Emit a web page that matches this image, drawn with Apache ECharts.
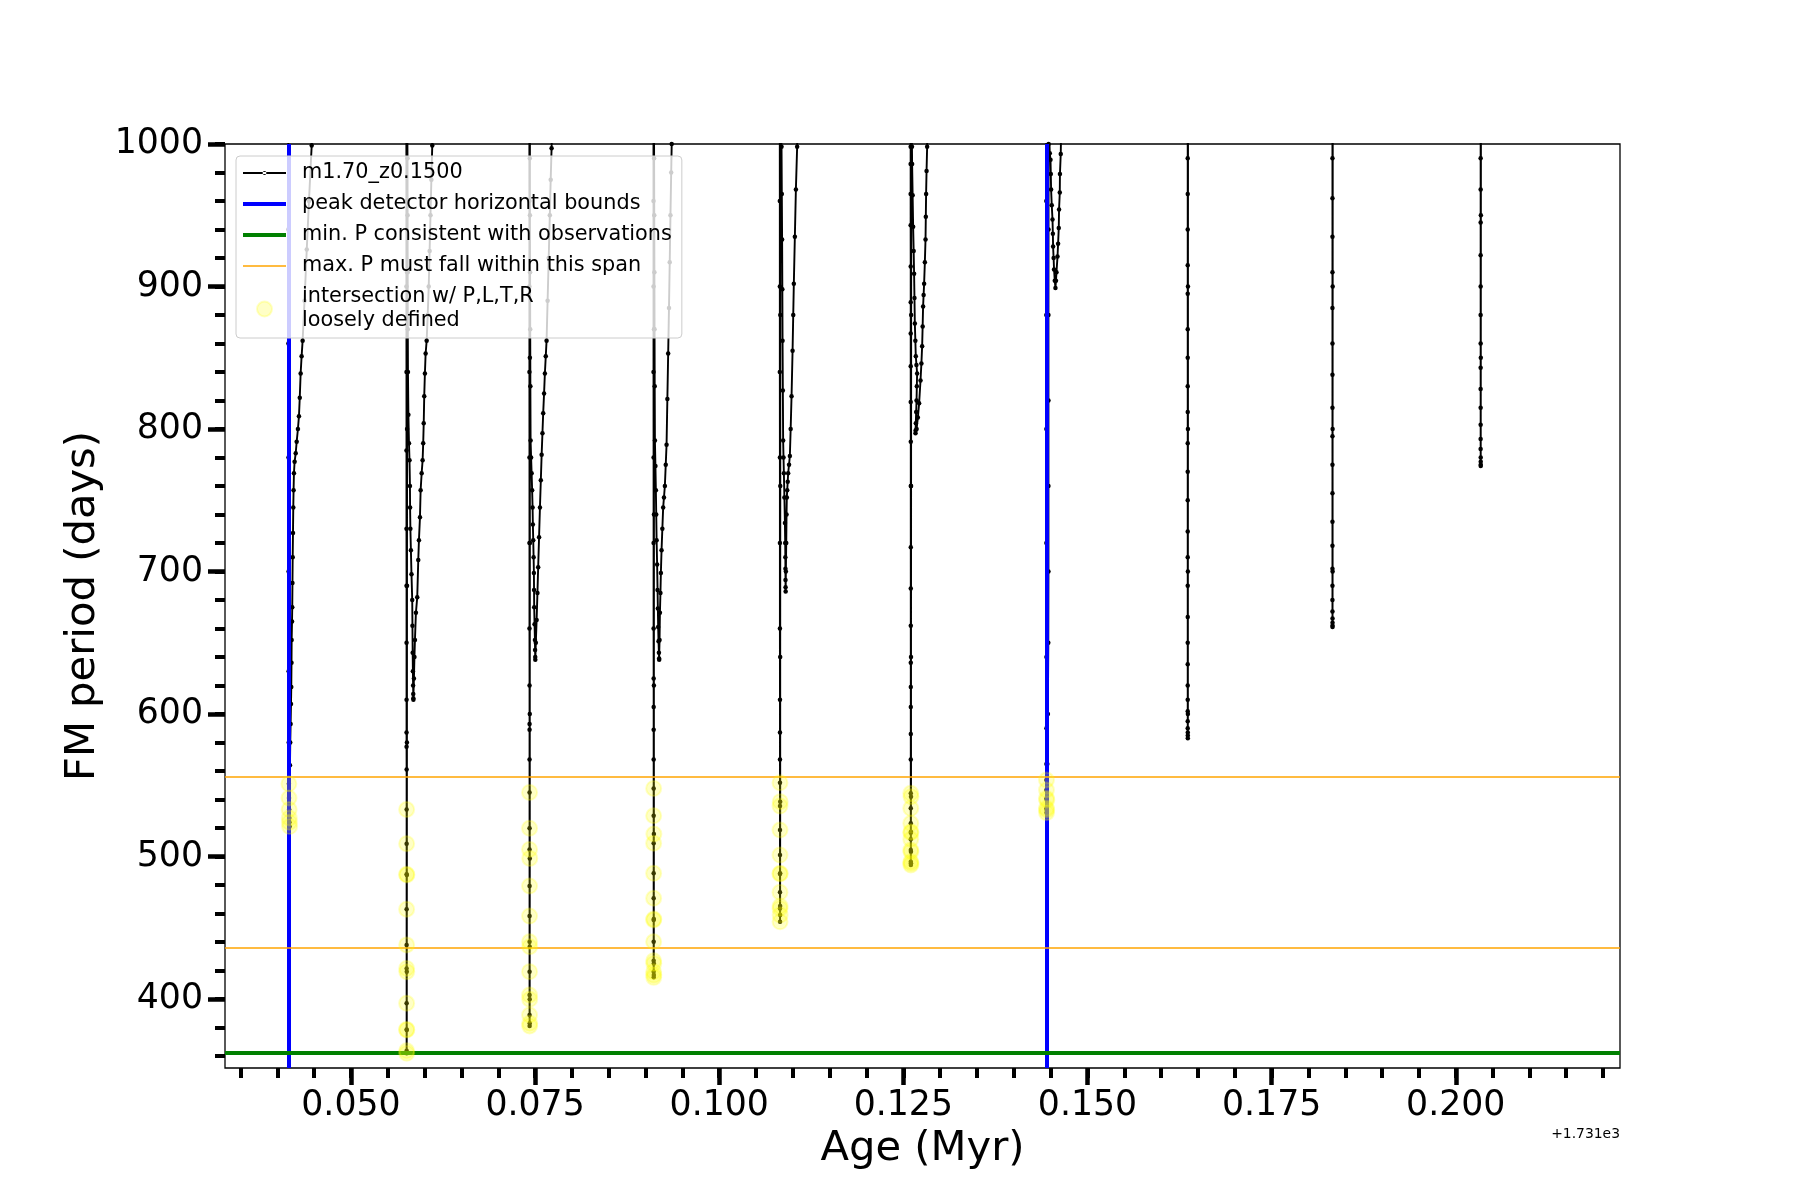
<!DOCTYPE html>
<html>
<head>
<meta charset="utf-8">
<script src="https://cdn.jsdelivr.net/npm/echarts@6/dist/echarts.min.js"></script>
<style>
  html, body { margin: 0; padding: 0; background: #ffffff; }
  #chart { width: 1800px; height: 1200px; }
</style>
</head>
<body>
<div id="chart"></div>
<script>
// Ages are given relative to the axis offset (+1.731e3 Myr); periods in days.
const AGE_OFFSET_LABEL = '+1.731e3';
const trackName = 'm1.70_z0.1500';

const xTickValues = [0.050, 0.075, 0.100, 0.125, 0.150, 0.175, 0.200];
const xMinorTicks = [0.035, 0.040, 0.045, 0.050, 0.055, 0.060, 0.065, 0.070, 0.075, 0.080, 0.085, 0.090,
  0.095, 0.100, 0.105, 0.110, 0.115, 0.120, 0.125, 0.130, 0.135, 0.140, 0.145, 0.150, 0.155, 0.160,
  0.165, 0.170, 0.175, 0.180, 0.185, 0.190, 0.195, 0.200, 0.205, 0.210, 0.215, 0.220];
const yTickValues = [400, 500, 600, 700, 800, 900, 1000];
const yMinorTicks = [360, 380, 400, 420, 440, 460, 480, 500, 520, 540, 560, 580, 600, 620, 640, 660, 680,
  700, 720, 740, 760, 780, 800, 820, 840, 860, 880, 900, 920, 940, 960, 980, 1000];
const xRange = [0.0329, 0.2223];
const yRange = [351.6, 1000];

const peakBoundAges = [0.04149, 0.14443];
const minPeriodObs = 362;
const maxPeriodSpan = [436, 556];

const pulse1 = [[0.04150,1040],[0.04150,940],[0.04151,860],[0.04152,780],[0.04153,700],[0.04154,630],[0.04155,580],
  [0.04157,551],[0.04159,541],[0.04161,533],[0.04163,527],[0.04165,524],[0.04167,521],
  [0.04172,564],[0.04176,580],[0.04181,593],[0.04186,607],[0.04190,619],[0.04193,636],[0.04195,652],[0.04200,665],
  [0.04203,675],[0.04206,692],[0.04209,710],[0.04213,727],[0.04217,745],[0.04221,757],[0.04226,769],[0.04235,777],
  [0.04250,783],[0.04263,791],[0.04280,800],[0.04294,809],[0.04305,822],[0.04317,839],[0.04330,851],[0.04344,862],
  [0.04370,890],[0.04400,926],[0.04430,960],[0.04467,999],[0.04480,1015]];
const pulse2 = [[0.05752,1040],[0.05753,960],[0.05753,900],[0.05754,840],[0.05754,785],[0.05754,730],[0.05755,690],
  [0.05755,650],[0.05755,610],[0.05755,587],[0.05755,577],[0.05756,561],
  [0.05756,533],[0.05756,509],[0.05756,487.5],[0.05756,463],[0.05756,438],[0.05756,421.5],[0.05756,397],[0.05756,378.7],
  [0.05756,363.7],[0.05757,361.9],
  [0.05758,378.2],[0.05758,419.2],[0.05759,487],[0.05760,580],[0.05761,690],[0.05762,800],[0.05763,910],[0.05764,1020],
  [0.05768,990],[0.05769,950],[0.05770,910],[0.05772,870],[0.05774,840],[0.05780,810],[0.05788,790],[0.05795,778],
  [0.05801,760],[0.05803,745],[0.05807,730],[0.05814,715],[0.05822,698],[0.05832,680],[0.05835,662],[0.05838,643],
  [0.05841,630],[0.05844,620],[0.05846,614],[0.05847,611],[0.05848,610],
  [0.05855,625],[0.05862,640],[0.05869,652],[0.05882,671],[0.05900,682],[0.05914,708],[0.05923,722],[0.05937,738],
  [0.05946,757],[0.05960,769],[0.05973,778],[0.05981,790],[0.05988,804],[0.05995,823],[0.06004,839],[0.06014,853],
  [0.06028,862],[0.06042,880],[0.06056,900],[0.06068,925],[0.06080,950],[0.06092,975],[0.06104,999],[0.06115,1020]];
const pulse3 = [[0.07422,1040],[0.07423,960],[0.07423,900],[0.07423,840],[0.07424,780],[0.07424,720],[0.07424,660],
  [0.07425,620],[0.07425,593],[0.07425,589],[0.07425,568],
  [0.07425,545],[0.07425,519.8],[0.07425,505],[0.07425,479.3],[0.07425,458.2],[0.07425,440.2],[0.07425,419.2],
  [0.07425,402.8],[0.07425,388.8],[0.07426,381.1],
  [0.07427,383],[0.07427,399.8],[0.07427,436.7],[0.07428,498.7],[0.07428,600],[0.07429,720],[0.07429,850],[0.07430,1020],
  [0.07428,990],[0.07430,950],[0.07432,910],[0.07434,870],[0.07436,830],[0.07439,792],[0.07446,780],[0.07453,769],
  [0.07460,757],[0.07466,745],[0.07470,733],[0.07475,722],[0.07480,710],[0.07484,699],[0.07486,687],[0.07488,675],
  [0.07493,663],[0.07498,652],[0.07500,645],[0.07502,640],[0.07503,638],
  [0.07510,650],[0.07521,666],[0.07532,685],[0.07542,703],[0.07554,724],[0.07566,745],[0.07578,764],[0.07589,782],
  [0.07600,797],[0.07610,811],[0.07622,825],[0.07633,839],[0.07645,851],[0.07656,862],[0.07670,890],[0.07685,920],
  [0.07700,950],[0.07712,975],[0.07724,997],[0.07735,1020]];
const pulse4 = [[0.09107,1040],[0.09108,960],[0.09108,900],[0.09108,840],[0.09109,780],[0.09109,720],[0.09109,660],
  [0.09110,625],[0.09110,605],[0.09110,589],[0.09110,568],
  [0.09110,547.8],[0.09110,528.6],[0.09110,509.3],[0.09110,488.2],[0.09110,470.7],[0.09110,455.4],[0.09110,440.2],
  [0.09110,426.9],[0.09110,419.2],[0.09111,415.2],
  [0.09112,416.8],[0.09112,425],[0.09112,456.1],[0.09113,515.8],[0.09113,620],[0.09114,740],[0.09114,870],[0.09115,1020],
  [0.09116,990],[0.09118,950],[0.09120,910],[0.09122,870],[0.09124,830],[0.09127,792],[0.09134,774],[0.09140,757],
  [0.09145,740],[0.09150,722],[0.09157,705],[0.09163,687],[0.09167,674],[0.09171,661],[0.09176,651],[0.09181,643],
  [0.09184,639],[0.09185,638],
  [0.09190,652],[0.09195,671],[0.09202,685],[0.09208,699],[0.09217,715],[0.09228,730],[0.09239,745],[0.09250,752],
  [0.09262,760],[0.09274,775],[0.09285,789],[0.09296,821],[0.09307,853],[0.09318,885],[0.09328,917],[0.09338,950],
  [0.09348,980],[0.09355,1000],[0.09365,1020]];
const pulse5 = [[0.10822,1040],[0.10823,960],[0.10823,900],[0.10823,840],[0.10824,780],[0.10824,720],[0.10824,660],
  [0.10825,610],[0.10825,587],[0.10825,568],
  [0.10825,551.8],[0.10825,535.4],[0.10825,518.6],[0.10825,501],[0.10825,487.7],[0.10825,474.9],[0.10825,463.6],
  [0.10826,454.2],
  [0.10827,458.9],[0.10827,465.3],[0.10827,488.2],[0.10828,538.5],[0.10828,640],[0.10829,760],[0.10829,880],[0.10830,1020],
  [0.10846,998],[0.10850,965],[0.10854,933],[0.10857,898],[0.10860,862],[0.10864,827],[0.10868,792],[0.10873,780],
  [0.10878,769],[0.10885,752],[0.10892,734],[0.10896,720],[0.10898,710],[0.10899,702],[0.10900,694],[0.10901,689],
  [0.10902,686],
  [0.10905,700],[0.10910,720],[0.10914,740],[0.10918,752],[0.10923,757],[0.10930,763],[0.10936,769],[0.10948,775],
  [0.10959,781],[0.10970,800],[0.10982,823],[0.10996,855],[0.11005,880],[0.11013,902],[0.11027,935],[0.11041,968],
  [0.11058,998],[0.11068,1020]];
const pulse6 = [[0.12598,1040],[0.12599,998],[0.12599,986],[0.12599,965],[0.12599,943],[0.12600,914],[0.12600,889],
  [0.12600,867],[0.12600,844],[0.12600,819],[0.12601,791],[0.12601,760],[0.12601,717],[0.12601,688],[0.12601,662],
  [0.12601,636],[0.12601,619],[0.12601,605],[0.12601,586],[0.12601,568],
  [0.12601,544.4],[0.12601,533.8],[0.12601,523.3],[0.12601,516.7],[0.12601,512.1],[0.12601,504.6],[0.12601,496.4],
  [0.12602,494],
  [0.12603,495.2],[0.12603,503.4],[0.12603,517.4],[0.12604,542],[0.12604,640],[0.12605,760],[0.12606,880],[0.12607,1020],
  [0.12617,998],[0.12619,986],[0.12626,964],[0.12633,942],[0.12640,925],[0.12646,909],[0.12651,892],[0.12656,874],
  [0.12663,862],[0.12669,851],[0.12678,845],[0.12687,839],[0.12683,830],[0.12679,820],[0.12674,812],[0.12669,804],
  [0.12666,799],[0.12665,797],
  [0.12680,800],[0.12697,808],[0.12714,818],[0.12733,834],[0.12745,846],[0.12755,858],[0.12762,872],[0.12768,886],
  [0.12775,894],[0.12782,902],[0.12792,917],[0.12801,933],[0.12805,949],[0.12809,965],[0.12815,981],[0.12823,998],
  [0.12830,1020]];
const pulse7 = [[0.14440,1040],[0.14441,960],[0.14441,880],[0.14442,800],[0.14442,720],[0.14443,640],[0.14443,590],
  [0.14443,565],
  [0.14443,553.7],[0.14443,546.7],[0.14443,540.8],[0.14443,533.8],[0.14444,530.7],
  [0.14446,532.6],[0.14448,539.6],[0.14455,565],[0.14462,600],[0.14468,650],[0.14470,700],[0.14470,760],[0.14470,820],
  [0.14470,880],[0.14471,940],[0.14472,1000],[0.14473,1020],
  [0.14482,1020],[0.14488,993.5],[0.14498,989],[0.14502,979],[0.14506,968],[0.14515,957],[0.14525,947],[0.14530,937],
  [0.14533,928],[0.14540,920],[0.14546,912],[0.14556,904],[0.14565,899],
  [0.14572,904],[0.14579,910],[0.14593,921],[0.14601,930],[0.14610,941],[0.14614,954],[0.14624,966],[0.14626,979],
  [0.14637,993],[0.14645,1020]];
const pulse8 = [[0.16360,1040],[0.16361,990],[0.16361,965],[0.16361,940],[0.16361,915],[0.16361,895],[0.16361,870],
  [0.16361,850],[0.16361,830],[0.16361,812],[0.16361,790],[0.16361,770],[0.16361,750],[0.16361,728],[0.16361,710],
  [0.16361,690],[0.16361,668],[0.16361,650],[0.16361,635],[0.16361,620],[0.16361,610],[0.16361,602],[0.16361,595],
  [0.16361,590],[0.16362,587],[0.16362,585],[0.16362,583],
  [0.16363,600],[0.16363,700],[0.16364,800],[0.16364,900],[0.16365,1040]];
const pulse9 = [[0.18325,1040],[0.18326,990],[0.18326,962],[0.18326,935],[0.18326,910],[0.18326,885],[0.18326,860],
  [0.18326,838],[0.18326,815],[0.18326,795],[0.18326,775],[0.18326,755],[0.18326,735],[0.18326,718],[0.18326,702],
  [0.18326,690],[0.18326,680],[0.18326,672],[0.18327,667],[0.18327,664],[0.18327,662],[0.18327,661],
  [0.18328,700],[0.18328,800],[0.18329,900],[0.18330,1040]];
const pulse10 = [[0.20337,1040],[0.20338,990],[0.20338,968],[0.20338,945],[0.20338,922],[0.20338,900],[0.20338,880],
  [0.20338,860],[0.20338,843],[0.20338,828],[0.20338,815],[0.20338,803],[0.20338,793],[0.20338,786],[0.20339,780],
  [0.20339,777],[0.20339,775],[0.20339,774],
  [0.20340,850],[0.20341,950],[0.20342,1040]];

const track = [].concat(pulse1, pulse2, pulse3, pulse4, pulse5, pulse6, pulse7, pulse8, pulse9, pulse10);
// points of the track that fall inside the allowed period window
const intersections = track.filter(p => p[1] <= maxPeriodSpan[1]);

const FONT = 'DejaVu Sans';
const chart = echarts.init(document.getElementById('chart'), null, { renderer: 'canvas' });

const legendNames = [trackName, 'peak detector horizontal bounds', 'min. P consistent with observations',
  'max. P must fall within this span', 'intersection w/ P,L,T,R\nloosely defined'];

const option = {
  animation: false,
  backgroundColor: '#ffffff',
  textStyle: { fontFamily: FONT },
  grid: { left: 225, top: 144, width: 1395, height: 924, show: true, borderColor: '#000', borderWidth: 1.3, backgroundColor: 'transparent' },
  xAxis: [
    {
      type: 'value', min: xRange[0], max: xRange[1], position: 'bottom',
      name: 'Age (Myr)', nameLocation: 'middle', nameGap: 56,
      nameTextStyle: { fontSize: 41.7, color: '#000', fontFamily: FONT },
      axisLine: { show: false },
      splitLine: { show: false },
      axisTick: { show: true, inside: false, length: 17, customValues: xTickValues, lineStyle: { color: '#000', width: 4.5 } },
      axisLabel: { show: true, customValues: xTickValues, margin: 20, fontSize: 34.7, color: '#000', fontFamily: FONT,
        formatter: v => v.toFixed(3) }
    },
    {
      type: 'value', min: xRange[0], max: xRange[1], position: 'bottom', offset: 0,
      axisLine: { show: false }, splitLine: { show: false }, axisLabel: { show: false },
      axisTick: { show: true, inside: false, length: 10, customValues: xMinorTicks, lineStyle: { color: '#000', width: 4 } }
    }
  ],
  yAxis: [
    {
      type: 'value', min: yRange[0], max: yRange[1], position: 'left',
      name: 'FM period (days)', nameLocation: 'middle', nameGap: 106, nameRotate: 90,
      nameTextStyle: { fontSize: 41.7, color: '#000', fontFamily: FONT },
      axisLine: { show: false }, splitLine: { show: false },
      axisTick: { show: true, inside: false, length: 17, customValues: yTickValues, lineStyle: { color: '#000', width: 4.5 } },
      axisLabel: { show: true, customValues: yTickValues, margin: 22, fontSize: 34.7, color: '#000', fontFamily: FONT,
        formatter: v => String(Math.round(v)) }
    },
    {
      type: 'value', min: yRange[0], max: yRange[1], position: 'left', offset: 0,
      axisLine: { show: false }, splitLine: { show: false }, axisLabel: { show: false },
      axisTick: { show: true, inside: false, length: 10, customValues: yMinorTicks, lineStyle: { color: '#000', width: 4 } }
    }
  ],
  legend: {
    orient: 'vertical', left: 236, top: 156,
    padding: [5, 10, 5, 7],
    itemWidth: 43, itemHeight: 15, itemGap: 7,
    backgroundColor: 'rgba(255,255,255,0.8)', borderColor: '#cccccc', borderWidth: 1, borderRadius: 4,
    textStyle: { fontSize: 20.8, lineHeight: 24, color: '#000', fontFamily: FONT, padding: [0, 0, 0, 11] },
    selectedMode: false,
    data: [
      { name: legendNames[0], icon: 'path://M0,1.1h43v1.8h-43z M19.6,2a1.9,1.9 0 1,0 3.8,0a1.9,1.9 0 1,0 -3.8,0z' },
      { name: legendNames[1], icon: 'path://M0,0h43v4h-43z' },
      { name: legendNames[2], icon: 'path://M0,0h43v4h-43z' },
      { name: legendNames[3], icon: 'path://M0,0h43v1.6h-43z' },
      { name: legendNames[4], icon: 'circle' }
    ],
    z: 10
  },
  series: [
    {
      name: legendNames[0], type: 'line', data: track, xAxisIndex: 0, yAxisIndex: 0,
      clip: true, z: 2,
      symbol: 'circle', symbolSize: 4.5, showSymbol: true,
      lineStyle: { color: '#000', width: 1.9 },
      itemStyle: { color: '#000' },
      emphasis: { disabled: true }
    },
    {
      name: legendNames[1], type: 'line', data: [], symbol: 'none', z: 3,
      lineStyle: { color: '#0000ff', width: 4 }, itemStyle: { color: '#0000ff' },
      markLine: { silent: true, precision: 6, symbol: ['none', 'none'], label: { show: false },
        lineStyle: { color: '#0000ff', width: 4, type: 'solid' },
        data: peakBoundAges.map(a => ({ xAxis: a })) }
    },
    {
      name: legendNames[2], type: 'line', data: [], symbol: 'none', z: 3,
      lineStyle: { color: '#008000', width: 4 }, itemStyle: { color: '#008000' },
      markLine: { silent: true, precision: 6, symbol: ['none', 'none'], label: { show: false },
        lineStyle: { color: '#008000', width: 4, type: 'solid' },
        data: [{ yAxis: minPeriodObs }] }
    },
    {
      name: legendNames[3], type: 'line', data: [], symbol: 'none', z: 3,
      lineStyle: { color: '#ffa500', width: 1.6 }, itemStyle: { color: '#ffa500' },
      markLine: { silent: true, precision: 6, symbol: ['none', 'none'], label: { show: false },
        lineStyle: { color: '#ffa500', width: 1.6, type: 'solid' },
        data: maxPeriodSpan.map(p => ({ yAxis: p })) }
    },
    {
      name: legendNames[4], type: 'scatter', data: intersections, z: 5,
      symbol: 'circle', symbolSize: 15,
      itemStyle: { color: 'rgba(255,255,0,0.28)', borderColor: 'rgba(255,255,0,0.28)', borderWidth: 2 },
      emphasis: { disabled: true }
    }
  ],
  graphic: [
    { type: 'text', x: 1620, y: 1134, z: 10,
      style: { text: AGE_OFFSET_LABEL, fontSize: 13.9, fontFamily: FONT, fill: '#000', align: 'right', verticalAlign: 'middle' } }
  ]
};
chart.setOption(option);
</script>
</body>
</html>
